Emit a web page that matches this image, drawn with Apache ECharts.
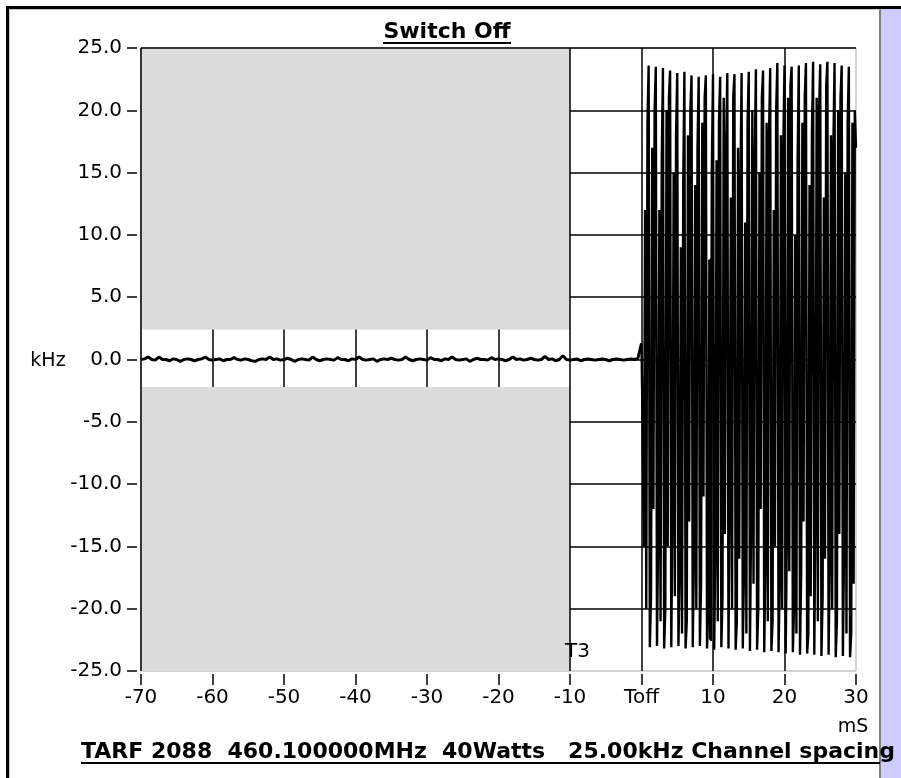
<!DOCTYPE html>
<html>
<head>
<meta charset="utf-8">
<script src="https://cdn.jsdelivr.net/npm/echarts@6/dist/echarts.min.js"></script>
<style>
  html, body { margin: 0; padding: 0; background: #fff; }
  #main { width: 901px; height: 778px; }
</style>
</head>
<body>
<div id="main"></div>
<script>
// axis ranges
var xMin = -70, xMax = 30, xStep = 10;
var yMin = -25, yMax = 25, yStep = 5;

// carrier before switch off, one sample every 0.5 mS from -70
var baseStart = -70, baseStep = 0.5;
var baseVals = [
  0,0.05,0.2,0,-0.05,0.2,0,0,-0.1,0.05,
  0,-0.15,0,0.05,0,-0.1,0,0.05,0.2,0,
  -0.05,0,0.05,-0.1,0,0,0.15,0,-0.05,0.05,
  0,-0.1,-0.15,0,0.05,0,0.2,0,0.05,-0.05,
  0,0.1,0,-0.15,0,0.05,0,-0.05,0.2,0,
  -0.1,0,0.05,0,-0.05,0.15,0,0,-0.1,0.05,
  0,0.2,0,-0.05,0,0.05,-0.15,0,0.05,0,
  0.1,0,-0.05,0,0.2,0,-0.1,0,0.05,0,
  -0.05,0.15,0,0,-0.1,0.05,0,0.2,0,-0.05,
  0,0.05,-0.15,0,0.1,0,0,-0.05,0.15,0,
  0.05,0,-0.1,0,0.2,0,0.05,-0.05,0,0.1,
  0,-0.05,0,0.25,0,0.05,-0.1,0,0.3,0,
  -0.05,0,0.05,-0.1,0,0.05,0,-0.05,0,0.05,
  0,-0.1,0,0.05,0,-0.05,0,0.05,0,0.1,
  1.3
];

// after Toff, six samples per mS from 0
var sigStart = 0, sigStep = 1 / 6;
var sigVals = [
  1.3,-6,-15,12,-20,19,
  23.6,-23.1,-19,17,-12,20,
  23.5,-23.0,-14,12,-21,16,
  23.4,-23.2,-20,20,-15,21,
  23.2,-23.1,-12,15,-19,18,
  23.0,-23.0,-17,9,-22,14,
  23.1,-23.2,-21,18,-13,20,
  22.8,-23.1,-16,14,-20,17,
  22.7,-23.0,-18,19,-11,21,
  22.8,-23.2,-20,8,-17,15,
  22.9,-23.3,-15,16,-21,19,
  22.7,-23.1,-19,21,-14,17,
  23.0,-23.2,-11,13,-20,21,
  22.9,-23.3,-21,17,-16,14,
  23.0,-23.2,-17,11,-22,19,
  23.1,-23.4,-13,20,-18,16,
  23.3,-23.3,-20,15,-12,21,
  23.2,-23.5,-16,19,-21,18,
  23.4,-23.4,-21,12,-15,20,
  23.8,-23.5,-18,18,-20,17,
  23.6,-23.6,-14,21,-17,22,
  23.5,-23.5,-20,10,-22,16,
  23.6,-23.7,-17,19,-13,21,
  23.8,-23.6,-22,14,-19,18,
  23.9,-23.7,-12,21,-21,20,
  23.7,-23.8,-19,13,-16,22,
  23.9,-23.7,-16,18,-20,17,
  23.8,-23.9,-21,20,-14,21,
  23.6,-23.8,-15,15,-22,19,
  23.5,-23.9,-22,19,-18,20,
  17
];

// dense burst near 10 mS
var burstT = [9.52,9.56,9.6,9.64,9.68,9.72,9.76];
var burstV = [8,-22.5,7.6,-22.3,8.1,-22.6,7];

// shading and grid lines
var shadeX = [-70, -10];
var bandTop = 2.4, bandBottom = -2.2;
var fullGridX = [-10, 0, 10, 20];
var shortGridX = [-60, -50, -40, -30, -20];
var gridY = [20, 15, 10, 5, 0, -5, -10, -15, -20];

var baseData = baseVals.map(function (v, i) { return [baseStart + i * baseStep, v]; });
var sigData = sigVals.map(function (v, i) { return [sigStart + i * sigStep, v]; });
var burstData = burstT.map(function (t, i) { return [t, burstV[i]]; });

var lines = [];
fullGridX.forEach(function (x) { lines.push([{ coord: [x, yMax] }, { coord: [x, yMin] }]); });
shortGridX.forEach(function (x) { lines.push([{ coord: [x, bandTop] }, { coord: [x, bandBottom] }]); });
gridY.forEach(function (y) { lines.push([{ coord: [shadeX[1], y] }, { coord: [xMax, y] }]); });
// dark top and left frame
lines.push([{ coord: [xMin, yMax] }, { coord: [xMax, yMax] }]);
lines.push([{ coord: [xMin, yMax] }, { coord: [xMin, yMin] }]);

var font = '"DejaVu Sans", Verdana, sans-serif';

var chart = echarts.init(document.getElementById('main'));
chart.setOption({
  animation: false,
  backgroundColor: '#fff',
  grid: {
    left: 141, right: 45, top: 48, bottom: 107,
    containLabel: false, outerBoundsMode: 'none',
    show: true, borderColor: '#a8a8a8', borderWidth: 1, backgroundColor: '#fff'
  },
  xAxis: {
    type: 'value', min: xMin, max: xMax, interval: xStep,
    offset: 3,
    splitLine: { show: false },
    axisLine: { show: false, onZero: false },
    axisTick: { show: true, length: 11, lineStyle: { color: '#000', width: 1.5 } },
    axisLabel: {
      margin: 14, color: '#000', fontSize: 20, fontFamily: font,
      showMinLabel: true, showMaxLabel: true,
      formatter: function (v) { return v === 0 ? 'Toff' : String(v); }
    }
  },
  yAxis: {
    type: 'value', min: yMin, max: yMax, interval: yStep,
    offset: 4,
    splitLine: { show: false },
    axisLine: { show: false, onZero: false },
    axisTick: { show: true, length: 10, lineStyle: { color: '#000', width: 1.5 } },
    axisLabel: {
      margin: 15, color: '#000', fontSize: 20, fontFamily: font,
      formatter: function (v) { return v.toFixed(1); }
    }
  },
  series: [
    {
      type: 'line', data: baseData, z: 2,
      showSymbol: false, symbol: 'none', silent: true,
      lineStyle: { color: '#000', width: 3 },
      markArea: {
        silent: true,
        itemStyle: { color: '#dcdcdc' },
        data: [
          [{ coord: [shadeX[0], yMax] }, { coord: [shadeX[1], bandTop] }],
          [{ coord: [shadeX[0], bandBottom] }, { coord: [shadeX[1], yMin] }]
        ]
      },
      markLine: {
        silent: true, symbol: ['none', 'none'],
        label: { show: false },
        lineStyle: { color: '#000', width: 1.5, type: 'solid' },
        data: lines
      }
    },
    {
      type: 'line', data: sigData, z: 3,
      showSymbol: false, symbol: 'none', silent: true,
      lineStyle: { color: '#000', width: 2.4 }
    },
    {
      type: 'line', data: burstData, z: 3,
      showSymbol: false, symbol: 'none', silent: true,
      lineStyle: { color: '#000', width: 2 }
    }
  ],
  graphic: [
    // window edge
    { type: 'rect', shape: { x: 881, y: 9, width: 20, height: 769 }, style: { fill: '#ccccff' }, z: 10 },
    { type: 'line', shape: { x1: 880, y1: 9, x2: 880, y2: 778 }, style: { stroke: '#555', lineWidth: 1.5 }, z: 10 },
    { type: 'line', shape: { x1: 7.5, y1: 6, x2: 7.5, y2: 778 }, style: { stroke: '#000', lineWidth: 3 }, z: 10 },
    { type: 'line', shape: { x1: 6, y1: 7.5, x2: 901, y2: 7.5 }, style: { stroke: '#000', lineWidth: 3 }, z: 10 },
    { type: 'line', shape: { x1: 9.5, y1: 9, x2: 9.5, y2: 778 }, style: { stroke: '#c8c8c8', lineWidth: 1 }, z: 10 },
    { type: 'line', shape: { x1: 9, y1: 9.5, x2: 880, y2: 9.5 }, style: { stroke: '#c8c8c8', lineWidth: 1 }, z: 10 },
    // title
    { type: 'text', x: 447, y: 32, z: 11,
      style: { text: 'Switch Off', fill: '#000', fontSize: 22, fontWeight: 'bold', fontFamily: font, align: 'center', verticalAlign: 'middle' } },
    { type: 'line', shape: { x1: 383, y1: 43, x2: 511, y2: 43 }, style: { stroke: '#000', lineWidth: 2 }, z: 11 },
    // units and marker
    { type: 'text', x: 48, y: 361, z: 11,
      style: { text: 'kHz', fill: '#000', fontSize: 19, fontFamily: font, align: 'center', verticalAlign: 'middle' } },
    { type: 'text', x: 853, y: 727, z: 11,
      style: { text: 'mS', fill: '#000', fontSize: 19, fontFamily: font, align: 'center', verticalAlign: 'middle' } },
    { type: 'text', x: 565, y: 652, z: 11,
      style: { text: 'T3', fill: '#000', fontSize: 20, fontFamily: font, align: 'left', verticalAlign: 'middle' } },
    // footer
    { type: 'text', x: 81, y: 752, z: 11,
      style: { text: 'TARF 2088  460.100000MHz  40Watts   25.00kHz Channel spacing', fill: '#000', fontSize: 22, fontWeight: 'bold', fontFamily: font, align: 'left', verticalAlign: 'middle' } },
    { type: 'line', shape: { x1: 81, y1: 763, x2: 880, y2: 763 }, style: { stroke: '#000', lineWidth: 2 }, z: 11 }
  ]
});
</script>
</body>
</html>
